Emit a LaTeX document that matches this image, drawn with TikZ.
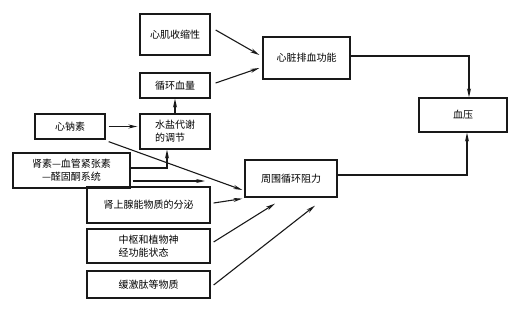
\documentclass[tikz,border=0pt]{standalone}
\usepackage{fontspec}
\setmainfont{Noto Sans CJK SC}
\usetikzlibrary{arrows.meta}
\begin{document}
\begin{tikzpicture}[x=1pt,y=-1pt,
  box/.style={draw=black!90, line width=1.3pt, inner sep=0pt, font=\fontsize{10}{13}\selectfont},
  arr/.style={line width=1.1pt, draw=black!90, -{Stealth[length=9pt,width=4pt]}}]
\useasboundingbox (0,0) rectangle (524,313);
% boxes
\node[box, minimum width=70pt, minimum height=41pt] (xj) at (175,34.5) {心肌收缩性};
\node[box, minimum width=70pt, minimum height=25pt] (xh) at (175,85.5) {循环血量};
\node[box, minimum width=70pt, minimum height=35pt, align=left] (sy) at (175,131.5) {水盐代谢\\的调节};
\node[box, minimum width=70pt, minimum height=25pt] (xn) at (70,126.5) {心钠素};
\node[box, minimum width=117pt, minimum height=35pt, align=center] (ss) at (71.5,170.5) {肾素—血管紧张素\\—醛固酮系统};
\node[box, minimum width=123pt, minimum height=36pt] (sx) at (148.5,205) {肾上腺能物质的分泌};
\node[box, minimum width=123pt, minimum height=34pt, align=left] (zs) at (148.5,246) {中枢和植物神\\经功能状态};
\node[box, minimum width=123pt, minimum height=27pt] (hj) at (148.5,284.5) {缓激肽等物质};
\node[box, minimum width=92pt, minimum height=37pt] (zw) at (291,178.5) {周围循环阻力};
\node[box, minimum width=87pt, minimum height=42pt] (xz) at (306.5,58) {心脏排血功能};
\node[box, minimum width=88pt, minimum height=34pt] (xy) at (463,115) {血压};
\coordinate (ssend) at (205,181);
% connectors
\draw[arr] ([xshift=5pt,yshift=4.5pt]xj.east) -- ([xshift=-3pt,yshift=3pt]xz.west);
\draw[arr] ([xshift=5pt,yshift=2.5pt]xh.east) -- ([xshift=-3pt,yshift=-10pt]xz.west);
\draw[arr] (sy.north) -- (xh.south);
\draw[arr] ([xshift=3pt]xn.east) -- ([xshift=-2pt]xn.east -| sy.west);
\draw[arr] ([xshift=3pt,yshift=-2pt]xn.south east) -- ([xshift=-2pt,yshift=-11.5pt]zw.west);
\draw[arr] ([yshift=2.5pt]ss.east) -| ([xshift=-8pt]sy.south);
\draw[arr] ([xshift=2pt,yshift=-10.5pt]ss.east) -- (ssend);
\draw[arr] ([xshift=3pt,yshift=2pt]sx.east) -- ([xshift=-2pt,yshift=-1pt]zw.south west);
\draw[arr] ([xshift=3pt,yshift=4pt]zs.east) -- ([xshift=-16pt,yshift=-6pt]zw.south);
\draw[arr] ([xshift=3pt,yshift=-0.5pt]hj.east) -- ([xshift=24pt,yshift=-8pt]zw.south);
\draw[arr] ([yshift=2pt]xz.east) -| ([xshift=6pt]xy.north);
\draw[arr] ([yshift=3.5pt]zw.east) -| ([xshift=4pt]xy.south);
\end{tikzpicture}
\end{document}
